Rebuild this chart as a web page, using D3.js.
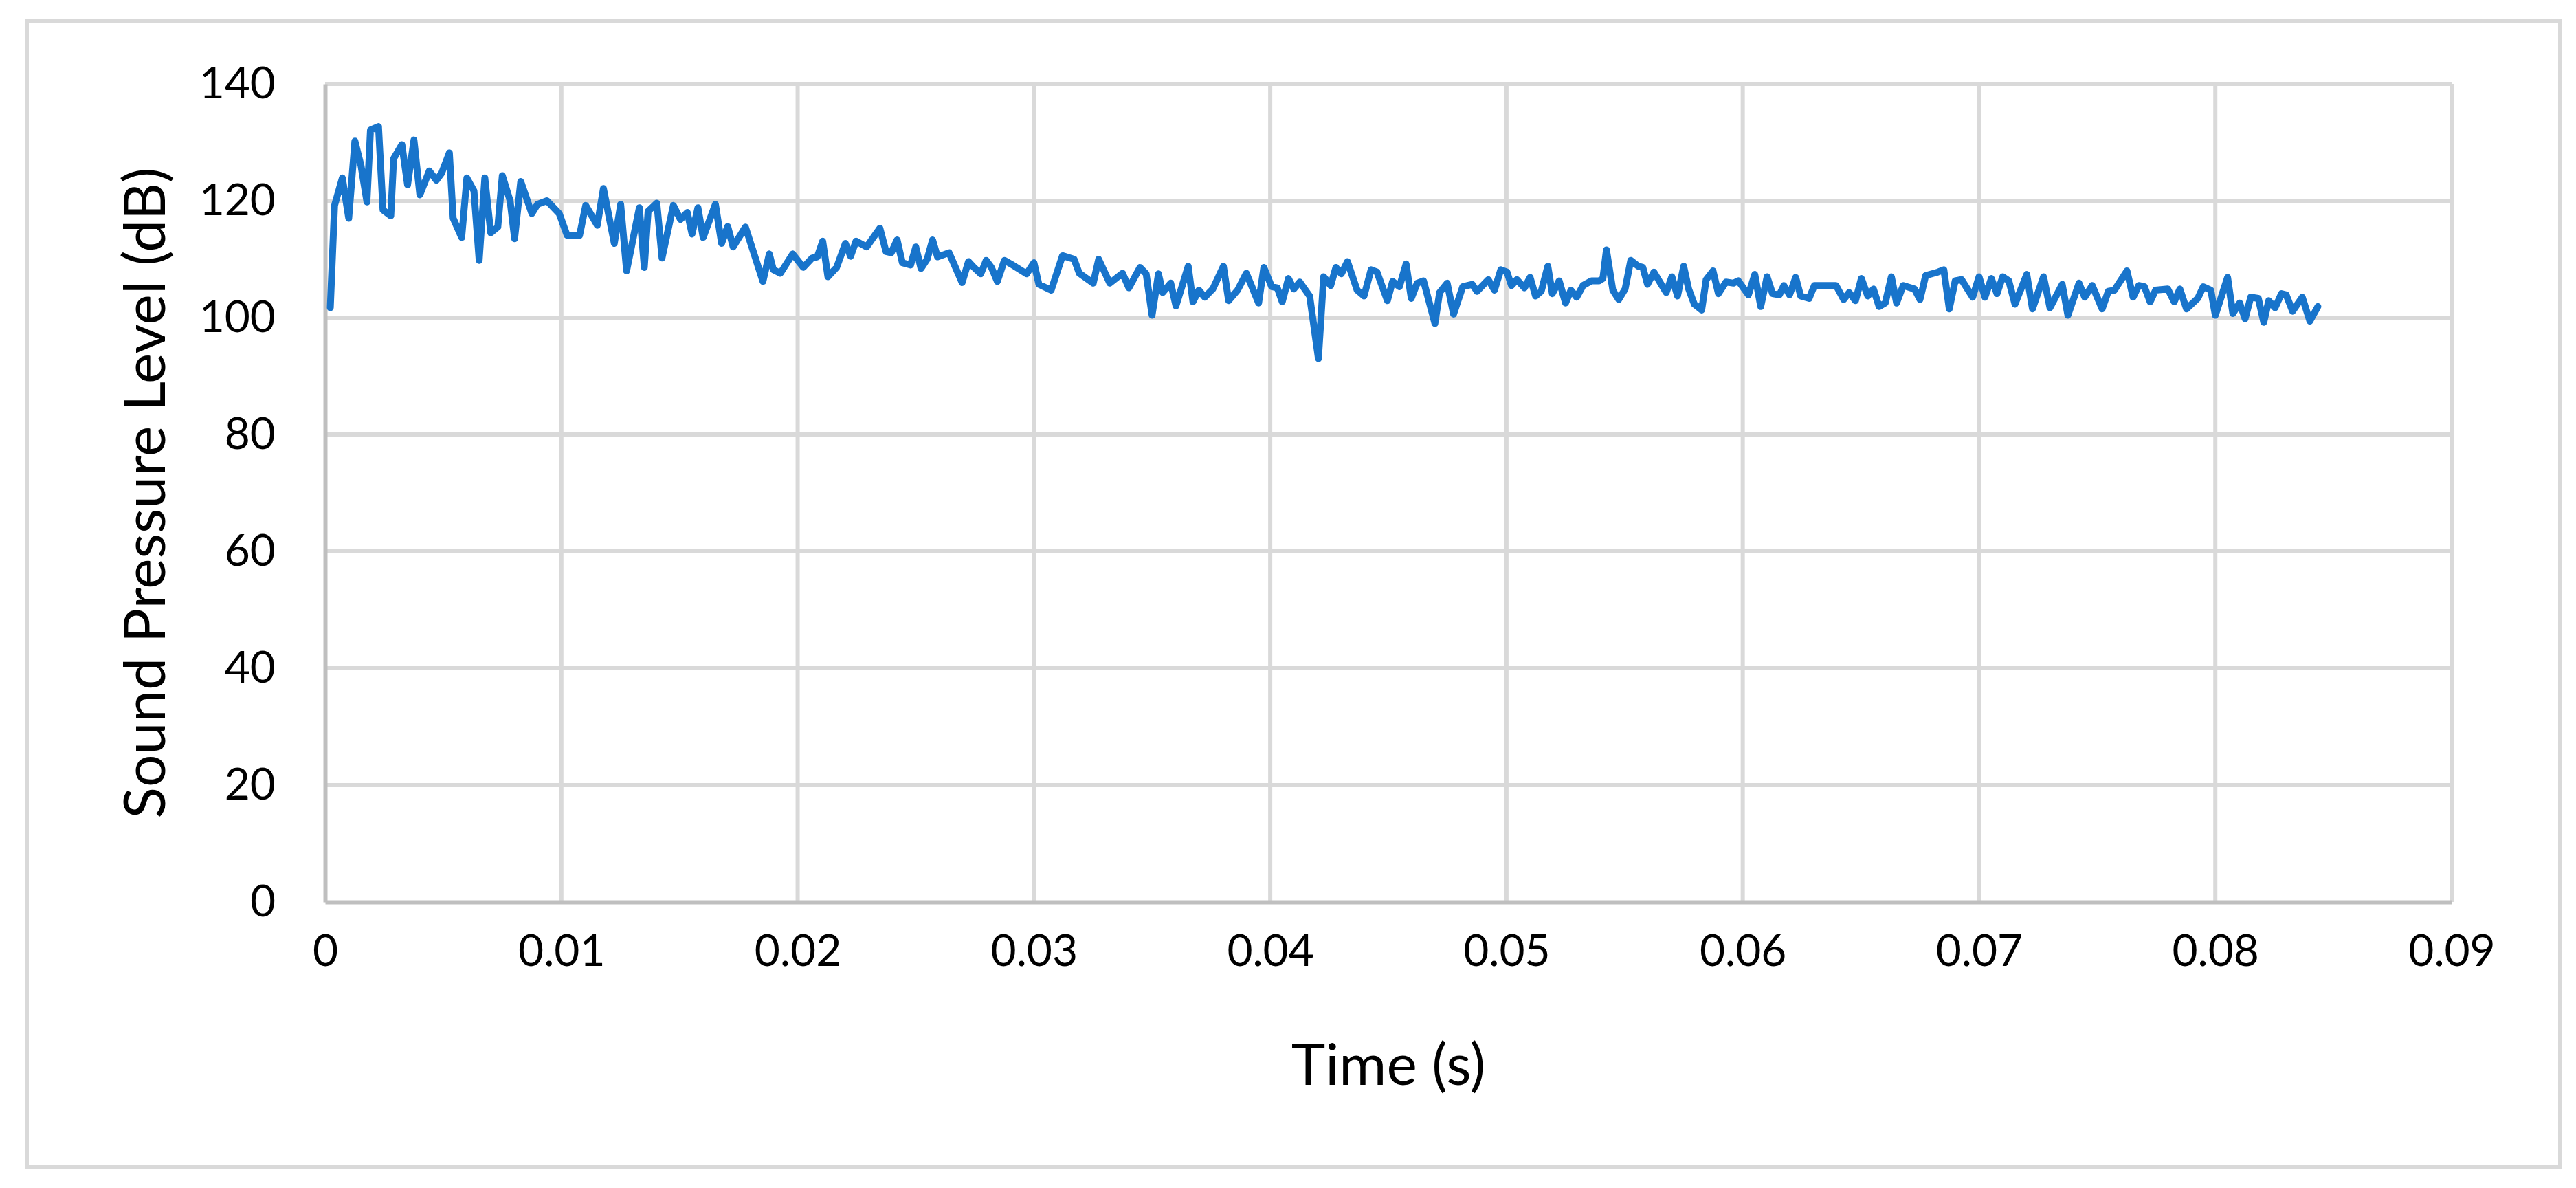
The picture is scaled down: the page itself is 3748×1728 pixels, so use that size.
<!DOCTYPE html>
<html>
<head>
<meta charset="utf-8">
<script src="https://d3js.org/d3.v7.min.js"></script>
<style>
  body { margin: 0; background: #fff; }
  text { font-family: Lato, "Open Sans", sans-serif; fill: #000; }
</style>
</head>
<body>
<div id="chart"></div>
<script>
// time (s) and sound pressure level (dB)
var tempo = [
  0.00022,0.00040,0.00073,0.00100,0.00126,0.00152,0.00177,0.00192,0.00226,0.00245,0.00278,0.00290,0.00325,0.00349,0.00376,0.00401,0.00441,0.00471,0.00493,0.00526,
  0.00542,0.00578,0.00600,0.00630,0.00652,0.00676,0.00701,0.00731,0.00750,0.00783,0.00802,0.00828,0.00875,0.00899,0.00939,0.00991,0.01024,0.01077,0.01103,0.01152,
  0.01178,0.01224,0.01251,0.01276,0.01330,0.01351,0.01367,0.01404,0.01426,0.01474,0.01504,0.01533,0.01553,0.01578,0.01600,0.01652,0.01678,0.01704,0.01727,0.01779,
  0.01853,0.01880,0.01897,0.01927,0.01979,0.02024,0.02061,0.02083,0.02106,0.02128,0.02165,0.02202,0.02224,
  0.02247,0.02292,0.02348,0.02374,0.02396,0.02421,0.02443,0.02478,0.02500,0.02522,0.02548,0.02571,0.02592,0.02641,0.02696,0.02723,0.02746,0.02775,0.02798,0.02820,
  0.02845,0.02875,0.02902,0.02969,0.03000,0.03021,0.03073,0.03121,0.03170,0.03192,0.03251,0.03274,0.03321,0.03375,0.03402,0.03449,0.03475,0.03500,0.03527,0.03545,
  0.03579,0.03601,0.03653,0.03673,0.03698,0.03723,0.03757,0.03802,0.03824,0.03862,0.03899,0.03951,0.03973,0.04006,0.04030,0.04051,0.04077,0.04100,0.04125,0.04167,
  0.04204,0.04226,0.04256,0.04278,0.04301,0.04327,0.04368,0.04397,0.04427,
  0.04452,0.04496,0.04518,0.04547,0.04575,0.04597,0.04622,0.04649,0.04697,0.04717,0.04749,0.04776,0.04815,0.04855,0.04875,0.04923,0.04949,0.04976,0.05002,0.05021,
  0.05044,0.05076,0.05100,0.05123,0.05147,0.05175,0.05194,0.05223,0.05250,0.05273,0.05297,0.05324,0.05360,0.05392,0.05408,0.05423,0.05450,0.05475,0.05502,0.05526,
  0.05558,0.05577,0.05597,0.05624,0.05652,0.05676,0.05700,0.05724,0.05750,0.05771,0.05795,0.05826,0.05845,0.05874,0.05897,0.05929,0.05961,0.05981,0.06024,0.06051,
  0.06076,0.06103,0.06126,0.06155,0.06174,0.06198,0.06224,0.06245,0.06281,0.06303,0.06348,0.06395,0.06427,0.06450,0.06477,0.06502,0.06529,0.06553,0.06577,0.06603,
  0.06629,0.06651,0.06679,0.06727,0.06750,0.06774,
  0.06826,0.06851,0.06874,0.06899,0.06926,0.06973,0.07000,0.07025,0.07052,0.07076,0.07100,0.07126,0.07152,0.07202,0.07226,0.07273,0.07300,0.07352,0.07376,0.07423,
  0.07447,0.07479,0.07521,0.07547,0.07573,0.07626,0.07652,0.07676,0.07700,0.07724,0.07747,0.07799,0.07826,0.07850,0.07878,0.07926,0.07949,0.07981,0.08000,0.08052,
  0.08074,0.08103,0.08126,0.08150,0.08182,0.08205,0.08226,0.08253,0.08280,0.08300,0.08327,0.08368,0.08400,0.08434
];
var nivel = [
  101.7,119.2,123.9,117.0,130.2,126.0,119.8,132.1,132.7,118.4,117.4,127.2,129.6,122.7,130.4,121.0,125.1,123.5,124.7,128.2,
  117.0,113.7,123.9,121.7,109.8,123.9,114.5,115.5,124.3,120.0,113.5,123.3,117.8,119.4,120.0,117.8,114.1,114.1,119.2,115.8,
  122.1,112.7,119.4,108.0,118.8,108.6,118.2,119.6,110.2,119.2,116.8,118.0,114.3,118.8,113.7,119.4,112.7,115.6,112.1,115.5,
  106.2,110.9,108.2,107.6,110.9,108.6,110.2,110.4,113.1,107.0,108.6,112.7,110.5,
  113.1,112.1,115.3,111.3,111.1,113.3,109.4,109.0,112.1,108.4,110.0,113.3,110.4,111.1,106.0,109.6,108.6,107.5,109.8,108.6,
  106.2,109.8,109.2,107.5,109.4,105.7,104.7,110.6,110.0,107.6,105.9,110.0,105.9,107.6,105.1,108.6,107.5,100.4,107.5,104.3,
  105.9,102.0,108.8,102.7,104.7,103.5,104.9,108.8,102.9,104.7,107.6,102.5,108.6,105.3,105.1,102.7,106.7,104.9,106.1,103.7,
  93.0,107.0,105.5,108.6,107.5,109.6,104.7,103.7,108.2,
  107.8,102.9,106.2,105.3,109.2,103.3,105.9,106.3,99.0,104.3,105.9,100.6,105.3,105.7,104.5,106.5,104.7,108.2,107.8,105.5,
  106.5,105.1,106.9,103.7,104.5,108.8,104.1,106.3,102.5,104.7,103.5,105.5,106.3,106.3,106.7,111.6,104.7,103.1,104.9,109.8,
  108.8,108.6,105.7,107.8,105.9,104.3,107.0,103.7,108.8,104.9,102.3,101.3,106.5,108.0,104.1,106.1,105.9,106.3,103.9,107.4,
  101.9,107.0,104.1,103.9,105.5,103.9,106.9,103.7,103.3,105.5,105.5,105.5,103.1,104.3,102.9,106.7,103.7,104.9,101.9,102.5,
  107.0,102.5,105.5,104.9,103.1,107.2,
  107.8,108.2,101.5,106.3,106.5,103.5,107.0,103.5,106.7,104.1,107.0,106.3,102.3,107.4,101.5,107.0,101.7,105.7,100.4,105.9,
  103.5,105.5,101.5,104.5,104.7,108.0,103.5,105.5,105.3,102.7,104.7,104.9,102.7,104.9,101.5,103.3,105.3,104.7,100.4,106.9,
  100.7,102.5,99.8,103.5,103.3,99.2,102.9,101.7,104.1,103.9,101.1,103.5,99.4,101.9
];
var ticksX = [0, 0.01, 0.02, 0.03, 0.04, 0.05, 0.06, 0.07, 0.08, 0.09];
var ticksY = [0, 20, 40, 60, 80, 100, 120, 140];

var W = 3748, H = 1728;
var margin = {top: 122, right: 181, bottom: 416, left: 473};
var larguraVis = W - margin.left - margin.right,
    alturaVis = H - margin.top - margin.bottom;

var svg = d3.select('#chart').append('svg')
  .attr('width', W).attr('height', H);

// moldura externa
svg.append('rect')
  .attr('x', 39).attr('y', 30).attr('width', 3686).attr('height', 1668)
  .attr('fill', 'none').attr('stroke', '#d9d9d9').attr('stroke-width', 6);

var grafico = svg.append('g')
  .attr('transform', 'translate(' + margin.left + ',' + margin.top + ')');

var x = d3.scaleLinear().domain([0, 0.09]).range([0, larguraVis]);
var y = d3.scaleLinear().domain([0, 140]).range([alturaVis, 0]);

// grade
grafico.append('g').selectAll('line').data(ticksX.slice(1)).enter().append('line')
  .attr('x1', d => x(d)).attr('x2', d => x(d)).attr('y1', 0).attr('y2', alturaVis)
  .attr('stroke', '#d9d9d9').attr('stroke-width', 6);
grafico.append('g').selectAll('line').data(ticksY.slice(1)).enter().append('line')
  .attr('x1', 0).attr('x2', larguraVis).attr('y1', d => y(d)).attr('y2', d => y(d))
  .attr('stroke', '#d9d9d9').attr('stroke-width', 6);

// eixos
var eixoX = grafico.append('g')
  .attr('transform', 'translate(0,' + alturaVis + ')')
  .call(d3.axisBottom(x).tickValues(ticksX).tickSize(0).tickPadding(48)
    .tickFormat(d => d === 0 ? '0' : d3.format('.2f')(d)));
eixoX.select('.domain').attr('stroke', '#bfbfbf').attr('stroke-width', 6);
eixoX.selectAll('text').style('font-size', '64px');

var eixoY = grafico.append('g')
  .call(d3.axisLeft(y).tickValues(ticksY).tickSize(0).tickPadding(72));
eixoY.select('.domain').attr('stroke', '#bfbfbf').attr('stroke-width', 6);
eixoY.selectAll('text').style('font-size', '64px');

// linha
var linha = d3.line().x((d, i) => x(tempo[i])).y(d => y(d));
grafico.append('path')
  .datum(nivel)
  .attr('d', linha)
  .attr('fill', 'none')
  .attr('stroke', '#1874cb')
  .attr('stroke-width', 10)
  .attr('stroke-linejoin', 'round')
  .attr('stroke-linecap', 'round');

// titulos
svg.append('text')
  .attr('transform', 'translate(240,' + (margin.top + alturaVis / 2) + ') rotate(-90)')
  .attr('text-anchor', 'middle')
  .style('font-size', '84px')
  .text('Sound Pressure Level (dB)');

svg.append('text')
  .attr('x', margin.left + larguraVis / 2).attr('y', 1578)
  .attr('text-anchor', 'middle')
  .style('font-size', '84px')
  .text('Time (s)');
</script>
</body>
</html>
